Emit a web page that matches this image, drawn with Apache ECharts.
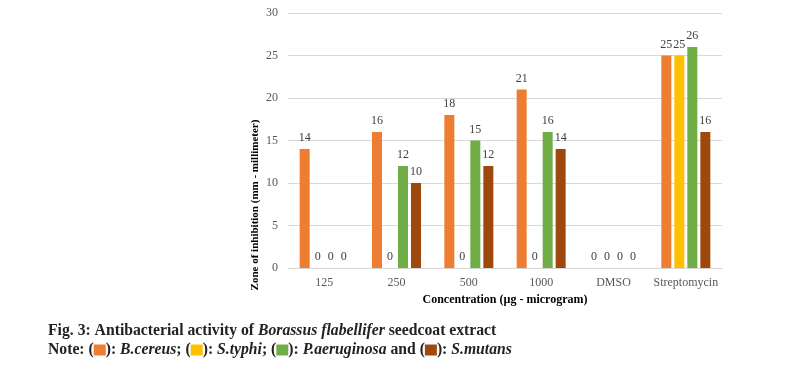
<!DOCTYPE html>
<html><head><meta charset="utf-8">
<script src="https://cdn.jsdelivr.net/npm/echarts@6/dist/echarts.min.js"></script>
<style>html,body{margin:0;padding:0;background:#fff;}#c{width:801px;height:374px;}</style>
</head><body><div id="c"></div>
<script>
const categories = ['125', '250', '500', '1000', 'DMSO', 'Streptomycin'];
const bCereus = [14, 16, 18, 21, 0, 25];
const sTyphi = [0, 0, 0, 0, 0, 25];
const pAeruginosa = [0, 12, 15, 16, 0, 26];
const sMutans = [0, 10, 12, 14, 0, 16];
const seriesNames = ['B.cereus', 'S.typhi', 'P.aeruginosa', 'S.mutans'];
const colors = ['#ED7D31', '#FFC000', '#70AD47', '#9E480E'];
const yTicks = {min: 0, max: 30, interval: 5};

const font = '"Liberation Serif", "Times New Roman", serif';
const chart = echarts.init(document.getElementById('c'), null, {renderer: 'canvas'});
const data = [bCereus, sTyphi, pAeruginosa, sMutans];
chart.setOption({
  animation: false,
  grid: {left: 288, right: 79, top: 13, bottom: 106},
  xAxis: {
    type: 'category', data: categories,
    axisLine: {show: true, lineStyle: {color: '#D9D9D9'}},
    axisTick: {show: false},
    axisLabel: {color: '#595959', fontFamily: font, fontSize: 12, margin: 9, interval: 0},
    name: 'Concentration (µg - microgram)', nameLocation: 'middle', nameGap: 24,
    nameTextStyle: {color: '#000', fontFamily: font, fontSize: 12, fontWeight: 'bold'}
  },
  yAxis: {
    type: 'value', min: yTicks.min, max: yTicks.max, interval: yTicks.interval,
    axisLine: {show: false}, axisTick: {show: false},
    splitLine: {lineStyle: {color: '#D9D9D9'}},
    axisLabel: {color: '#595959', fontFamily: font, fontSize: 12, margin: 10}
  },
  series: data.map((d, i) => ({
    name: seriesNames[i], type: 'bar', data: d, barWidth: 10, barGap: '30%',
    itemStyle: {color: colors[i]},
    label: {show: true, position: 'top', distance: 5, color: '#404040', fontFamily: font, fontSize: 12}
  })),
  graphic: [
    {type: 'text', x: 255, y: 205, rotation: Math.PI / 2, style: {
      text: 'Zone of inhibition (mm - millimeter)', align: 'center', verticalAlign: 'middle',
      fontFamily: font, fontSize: 11, fontWeight: 'bold', fill: '#000'}},
    {type: 'text', left: 48, top: 323, style: {
      text: '{b|Fig. 3: Antibacterial activity of }{bi|Borassus flabellifer}{b| seedcoat extract}',
      rich: {
        b: {fontFamily: font, fontSize: 15.7, fontWeight: 'bold', fill: '#222'},
        bi: {fontFamily: font, fontSize: 15.7, fontWeight: 'bold', fontStyle: 'italic', fill: '#222'}
      }}},
    {type: 'text', left: 48, top: 342, style: {
      text: '{b|Note: (}{o|}{b|): }{bi|B.cereus}{b|; (}{y|}{b|): }{bi|S.typhi}{b|; (}{g|}{b|): }{bi|P.aeruginosa}{b| and (}{r|}{b|): }{bi|S.mutans}',
      rich: {
        b: {fontFamily: font, fontSize: 15.7, fontWeight: 'bold', fill: '#222'},
        bi: {fontFamily: font, fontSize: 15.7, fontWeight: 'bold', fontStyle: 'italic', fill: '#222'},
        o: {backgroundColor: colors[0], width: 12, height: 11},
        y: {backgroundColor: colors[1], width: 12, height: 11},
        g: {backgroundColor: colors[2], width: 12, height: 11},
        r: {backgroundColor: colors[3], width: 12, height: 11}
      }}}
  ]
});
</script></body></html>
